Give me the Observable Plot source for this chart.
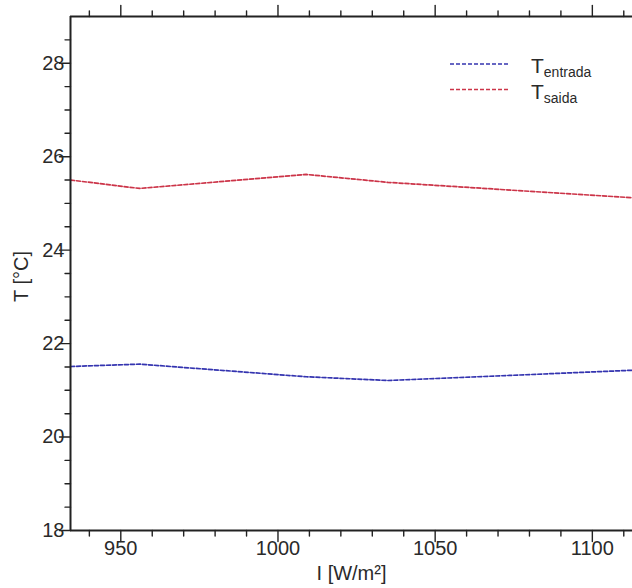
<!DOCTYPE html>
<html>
<head>
<meta charset="utf-8">
<script src="https://cdn.jsdelivr.net/npm/d3@7"></script>
<script src="https://cdn.jsdelivr.net/npm/@observablehq/plot@0.6"></script>
<style>
  html, body { margin: 0; padding: 0; background: #fff; }
  #chart svg { display: block; }
</style>
</head>
<body>
<div id="chart"></div>
<script>
// ---- data ----
const irradiance = [934, 956, 1009, 1035, 1113];
const tEntrada   = [21.51, 21.56, 21.29, 21.21, 21.43];
const tSaida     = [25.50, 25.32, 25.62, 25.45, 25.12];
const seriesNames = ["entrada", "saida"];
const xDomain = [934, 1115];
const yDomain = [18, 29];
const xMajor = [950, 1000, 1050, 1100];
const xMinor = d3.range(940, 1115, 10).filter(v => v % 50 !== 0);
const yMajor = [18, 20, 22, 24, 26, 28];
const yMinor = d3.range(18.5, 29, 0.5).filter(v => v % 2 !== 0);
const xLabel = "I [W/m²]";
const yLabel = "T [°C]";

const colors = {entrada: "#3434b0", saida: "#cc3448"};
const rows = [];
irradiance.forEach((x, i) => {
  rows.push({x, y: tEntrada[i], s: "entrada"});
  rows.push({x, y: tSaida[i], s: "saida"});
});

const font = "Liberation Sans, Arial, sans-serif";
const axisColor = "#222";
const textColor = "#2a2a2a";
const tickShape = {draw(ctx, l) { ctx.moveTo(0, 0); ctx.lineTo(0, -l); }};
const ticks = (data, opts, len) => Plot.vector(data, {...opts, length: len, anchor: "start", shape: tickShape, stroke: axisColor, strokeWidth: 1.4});

function legend(index, scales, values, dims) {
  const g = d3.create("svg:g").attr("font-family", font).attr("fill", textColor).attr("text-anchor", "start");
  seriesNames.forEach((name, i) => {
    const yb = 73 + i * 25.5;
    g.append("line").attr("x1", 450).attr("x2", 508).attr("y1", yb - 9).attr("y2", yb - 9)
      .attr("stroke", colors[name]).attr("stroke-width", 1.6).attr("stroke-dasharray", "4,2");
    const t = g.append("text").attr("x", 531).attr("y", yb).attr("font-size", 21).text("T");
    t.append("tspan").attr("font-size", 14).attr("dy", 4).text(name);
  });
  return g.node();
}

const chart = Plot.plot({
  width: 632,
  height: 588,
  marginLeft: 70,
  marginRight: 0,
  marginTop: 16,
  marginBottom: 58,
  style: {fontFamily: font, background: "#fff", overflow: "visible"},
  x: {domain: xDomain, range: [70, 639]},
  y: {domain: yDomain},
  marks: [
    Plot.line(rows, {x: "x", y: "y", z: "s", stroke: d => colors[d.s], strokeWidth: 1.7, strokeDasharray: "4,2", clip: true}),
    // frame
    Plot.ruleX([xDomain[0]], {stroke: axisColor, strokeWidth: 2}),
    Plot.ruleY([yDomain[0], yDomain[1]], {stroke: axisColor, strokeWidth: 2}),
    // ticks (pointing inward)
    ticks(xMajor, {x: d => d, y: yDomain[0], rotate: 180}, 11),
    ticks(xMinor, {x: d => d, y: yDomain[0], rotate: 180}, 5.5),
    ticks(xMajor, {x: d => d, y: yDomain[1], rotate: 0}, 11),
    ticks(xMinor, {x: d => d, y: yDomain[1], rotate: 0}, 5.5),
    ticks(yMajor, {y: d => d, x: xDomain[0], rotate: 270}, 11),
    ticks(yMinor, {y: d => d, x: xDomain[0], rotate: 270}, 5.5),
    ticks(yMajor, {y: d => d, x: xDomain[1], rotate: 90}, 11),
    ticks(yMinor, {y: d => d, x: xDomain[1], rotate: 90}, 5.5),
    // tick labels
    Plot.axisX(xMajor, {anchor: "bottom", tickSize: 0, tickPadding: 10, fontSize: 20, fill: textColor, label: null, tickFormat: d => String(d)}),
    Plot.axisY(yMajor, {anchor: "left", tickSize: 0, tickPadding: 6, fontSize: 20, fill: textColor, label: null, tickFormat: d => String(d)}),
    // axis titles
    Plot.text([yLabel], {text: d => d, frameAnchor: "left", textAnchor: "middle", lineAnchor: "middle", dx: -49, dy: 3, rotate: -90, fontSize: 20, fill: textColor}),
    Plot.text([xLabel], {text: d => d, frameAnchor: "bottom", textAnchor: "middle", dy: 49, fontSize: 20, fill: textColor}),
    legend
  ]
});
document.getElementById("chart").append(chart);
</script>
</body>
</html>
